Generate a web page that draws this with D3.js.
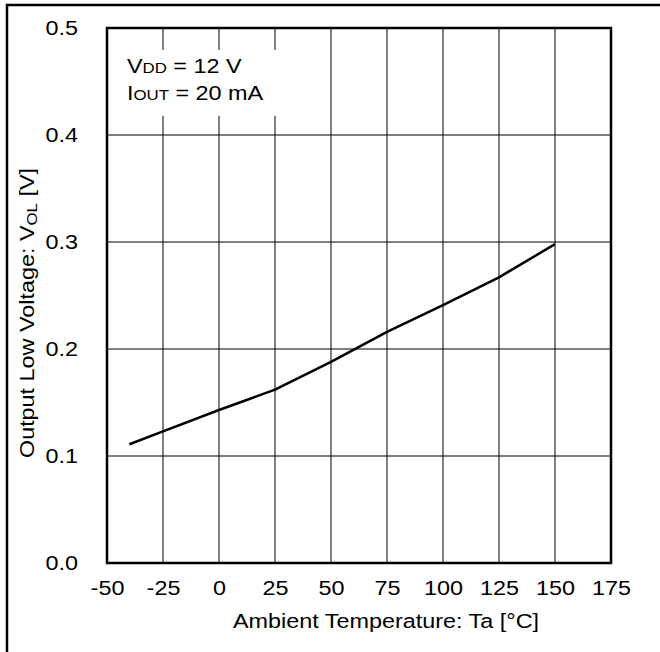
<!DOCTYPE html>
<html lang="en">
<head>
<meta charset="utf-8">
<title>Output Low Voltage vs Ambient Temperature</title>
<script src="https://cdn.jsdelivr.net/npm/d3@7"></script>
<style>
 body { margin: 0; background: #fff; }
 svg { display: block; font-family: "Liberation Sans", Arial, sans-serif; }
</style>
</head>
<body>
<div id="graph"></div>
<script>
// data
const temps = [-40, -25, 0, 25, 50, 75, 100, 125, 150];
const vol = [0.111, 0.123, 0.143, 0.162, 0.188, 0.216, 0.241, 0.267, 0.298];
const xTicks = [-50, -25, 0, 25, 50, 75, 100, 125, 150, 175];
const yTicks = [0.0, 0.1, 0.2, 0.3, 0.4, 0.5];

const W = 660, H = 652;
const margin = {top: 28, right: 49, bottom: 89, left: 107};
const width = W - margin.left - margin.right;
const height = H - margin.top - margin.bottom;
const fs = 19.5;   // font size
const sub = 14;    // subscript size
const sx = 1.2;    // the original font is wide, stretch along reading direction

const svg = d3.select("#graph").append("svg")
  .attr("width", W).attr("height", H);

// outer frame (only top/left visible)
svg.append("rect")
  .attr("x", 7).attr("y", 5)
  .attr("width", 700).attr("height", 700)
  .attr("fill", "none").attr("stroke", "#000").attr("stroke-width", 2.5);

const x = d3.scaleLinear().domain([-50, 175]).range([0, width]);
const y = d3.scaleLinear().domain([0, 0.5]).range([height, 0]);

const g = svg.append("g").attr("transform", `translate(${margin.left},${margin.top})`);

// grid
g.append("g").selectAll("line").data(xTicks.slice(1, -1)).join("line")
  .attr("x1", d => x(d)).attr("x2", d => x(d))
  .attr("y1", 0).attr("y2", height)
  .attr("stroke", "#000").attr("stroke-width", 1);
g.append("g").selectAll("line").data(yTicks.slice(1, -1)).join("line")
  .attr("x1", 0).attr("x2", width)
  .attr("y1", d => y(d)).attr("y2", d => y(d))
  .attr("stroke", "#000").attr("stroke-width", 1);

// white box behind the condition text
g.append("rect")
  .attr("x", 2).attr("y", 22).attr("width", 190).attr("height", 66)
  .attr("fill", "#fff");

// curve
const line = d3.line().x((d, i) => x(temps[i])).y(d => y(d));
g.append("path")
  .attr("d", line(vol))
  .attr("fill", "none").attr("stroke", "#000").attr("stroke-width", 2.5)
  .attr("stroke-linejoin", "round");

// plot frame
g.append("rect")
  .attr("width", width).attr("height", height)
  .attr("fill", "none").attr("stroke", "#000").attr("stroke-width", 2.5);

// axes labels
const xAxis = g.append("g")
  .attr("transform", `translate(0,${height})`)
  .call(d3.axisBottom(x).tickValues(xTicks).tickSize(0).tickPadding(18).tickFormat(d => String(d)));
xAxis.select(".domain").remove();
xAxis.selectAll("text")
  .attr("font-size", fs).attr("font-family", null).attr("fill", "#000")
  .attr("transform", `scale(${sx},1)`);

const yAxis = g.append("g")
  .call(d3.axisLeft(y).tickValues(yTicks).tickSize(0).tickFormat(d3.format(".1f")));
yAxis.select(".domain").remove();
yAxis.selectAll("text")
  .attr("font-size", fs).attr("font-family", null).attr("fill", "#000")
  .attr("x", -29 / sx)
  .attr("transform", `scale(${sx},1)`);

// x title
svg.append("text")
  .attr("transform", `translate(386,628) scale(${sx},1)`)
  .attr("text-anchor", "middle").attr("font-size", fs)
  .text("Ambient Temperature: Ta [°C]");

// y title
const yt = svg.append("text")
  .attr("transform", `translate(34,313) rotate(-90) scale(${sx},1)`)
  .attr("text-anchor", "middle").attr("font-size", fs);
yt.append("tspan").text("Output Low Voltage: V");
yt.append("tspan").attr("font-size", sub).attr("dy", 3).text("OL");
yt.append("tspan").attr("dy", -3).text(" [V]");

// conditions
const c1 = svg.append("text").attr("transform", `translate(127,73) scale(${sx},1)`).attr("font-size", fs);
c1.append("tspan").text("V");
c1.append("tspan").attr("font-size", sub).text("DD");
c1.append("tspan").text(" = 12 V");
const c2 = svg.append("text").attr("transform", `translate(127,100) scale(${sx},1)`).attr("font-size", fs);
c2.append("tspan").text("I");
c2.append("tspan").attr("font-size", sub).text("OUT");
c2.append("tspan").text(" = 20 mA");
</script>
</body>
</html>
